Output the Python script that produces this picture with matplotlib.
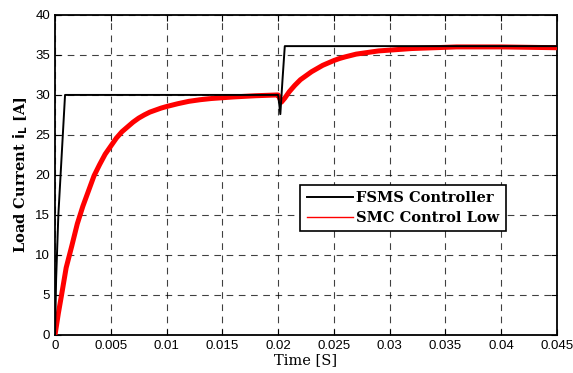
import matplotlib
matplotlib.use("Agg")
import matplotlib.pyplot as plt
from matplotlib.lines import Line2D

# FSMS controller response (black)
t_fsms = [0, 0.0001, 0.0003, 0.0005, 0.0007, 0.0009, 0.0200, 0.02005, 0.0202, 0.0204, 0.0206, 0.045]
i_fsms = [0, 7.0, 15.0, 20.0, 25.0, 30.0, 30.0, 29.5, 27.6, 32.0, 36.1, 36.1]

# SMC control low response (red)
t_smc = [0, 0.0003, 0.0006, 0.001, 0.0015, 0.002, 0.0025, 0.003, 0.0035, 0.004,
         0.0045, 0.005, 0.0055, 0.006, 0.0065, 0.007, 0.0075, 0.008, 0.0085, 0.009,
         0.0095, 0.010, 0.011, 0.012, 0.013, 0.014, 0.016, 0.018,
         0.020, 0.0201, 0.0203, 0.0206, 0.021, 0.0215, 0.022, 0.0225, 0.023, 0.0235,
         0.024, 0.0245, 0.025, 0.0255, 0.026, 0.027, 0.028, 0.029, 0.030, 0.031,
         0.032, 0.033, 0.034, 0.036, 0.040, 0.045]
i_smc = [0, 2.7, 5.1, 8.4, 11.1, 13.9, 16.1, 18.0, 19.9, 21.3,
         22.6, 23.6, 24.6, 25.4, 26.0, 26.6, 27.1, 27.5, 27.85, 28.1,
         28.35, 28.55, 28.9, 29.2, 29.4, 29.55, 29.75, 29.9,
         30.0, 29.7, 29.1, 29.6, 30.4, 31.2, 31.9, 32.4, 32.9, 33.3,
         33.7, 34.0, 34.3, 34.55, 34.75, 35.1, 35.3, 35.5, 35.6, 35.7,
         35.8, 35.85, 35.9, 36.0, 36.0, 35.9]

xticks = [0, 0.005, 0.01, 0.015, 0.02, 0.025, 0.03, 0.035, 0.04, 0.045]
xticklabels = ["0", "0.005", "0.01", "0.015", "0.02", "0.025", "0.03", "0.035", "0.04", "0.045"]
yticks = [0, 5, 10, 15, 20, 25, 30, 35, 40]

fig = plt.figure(figsize=(5.73, 3.73), dpi=100)
ax = fig.add_axes([0.096, 0.102, 0.876, 0.858])

ax.plot(t_smc, i_smc, color="red", lw=3.6, solid_joinstyle="round", zorder=3)
ax.plot(t_fsms, i_fsms, color="black", lw=1.4, zorder=4)

ax.set_xlim(0, 0.045)
ax.set_ylim(0, 40)
ax.set_xticks(xticks)
ax.set_xticklabels(xticklabels)
ax.set_yticks(yticks)
ax.tick_params(direction="in", top=True, right=True, labelsize=9.5, length=4)
for lab in ax.get_xticklabels() + ax.get_yticklabels():
    lab.set_family("Liberation Sans")
for s in ax.spines.values():
    s.set_linewidth(1.3)

ax.grid(True, color="black", linestyle=(0, (6, 5)), linewidth=0.8, alpha=0.75)

ax.set_xlabel("Time [S]", family="DejaVu Serif", fontsize=10.5, labelpad=1)
ax.set_ylabel(r"Load Current $\mathbf{i_L}$ [A]", family="DejaVu Serif", fontweight="bold", fontsize=10.5, labelpad=4)

handles = [Line2D([], [], color="black", lw=1.4), Line2D([], [], color="red", lw=1.0)]
leg = ax.legend(handles, ["FSMS Controller", "SMC Control Low"],
                loc="upper left", bbox_to_anchor=(0.488, 0.47), frameon=True, fancybox=False,
                edgecolor="black", prop={"family": "DejaVu Serif", "weight": "bold", "size": 10.5},
                handlelength=3.2, borderpad=0.45, labelspacing=0.4, handletextpad=0.2, borderaxespad=0)
leg.get_frame().set_linewidth(1.2)
leg.get_frame().set_alpha(1)

fig.savefig("out.png", dpi=100)
